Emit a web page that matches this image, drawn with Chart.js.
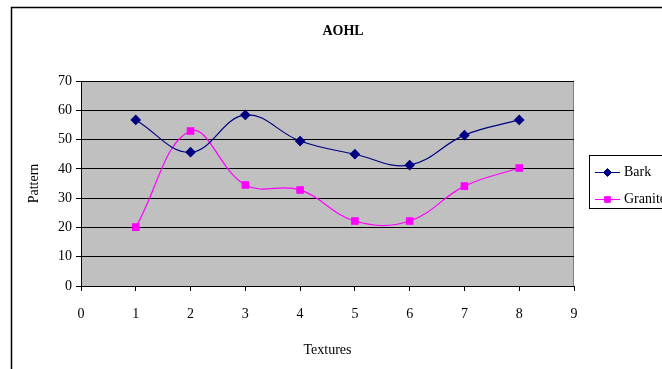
<!DOCTYPE html>
<html>
<head>
<meta charset="utf-8">
<script src="https://cdn.jsdelivr.net/npm/chart.js@4/dist/chart.umd.min.js"></script>
<style>
  html, body { margin: 0; padding: 0; background: #fff; }
  #wrap { width: 662px; height: 369px; position: relative; }
</style>
</head>
<body>
<div id="wrap"><canvas id="chart" width="662" height="369"></canvas></div>
<script>
const textures = [1, 2, 3, 4, 5, 6, 7, 8];
const bark = [56.7, 45.7, 58.4, 49.5, 45.0, 41.3, 51.5, 56.7];
const granite = [20.1, 52.9, 34.5, 32.8, 22.2, 22.2, 34.1, 40.3];
const yTicks = [0, 10, 20, 30, 40, 50, 60, 70];
const xTicks = [0, 1, 2, 3, 4, 5, 6, 7, 8, 9];

const serif = "'Liberation Serif', 'Times New Roman', serif";

// frame, gray plot background, title, legend box
const decor = {
  id: "decor",
  beforeDraw(chart) {
    const ctx = chart.ctx;
    const a = chart.chartArea;
    ctx.save();
    ctx.fillStyle = "#fff";
    ctx.fillRect(0, 0, chart.width, chart.height);
    ctx.strokeStyle = "#000";
    ctx.lineWidth = 1.5;
    ctx.beginPath();
    ctx.moveTo(11.5, chart.height);
    ctx.lineTo(11.5, 7.5);
    ctx.lineTo(chart.width, 7.5);
    ctx.stroke();
    ctx.fillStyle = "#c0c0c0";
    ctx.fillRect(a.left, a.top, a.right - a.left, a.bottom - a.top);
    ctx.strokeStyle = "#808080";
    ctx.lineWidth = 1;
    ctx.beginPath();
    ctx.moveTo(a.left, a.top + 0.5);
    ctx.lineTo(a.right - 0.5, a.top + 0.5);
    ctx.lineTo(a.right - 0.5, a.bottom);
    ctx.stroke();
    ctx.fillStyle = "#000";
    ctx.font = "bold 14px " + serif;
    ctx.textAlign = "center";
    ctx.textBaseline = "middle";
    ctx.fillText("AOHL", 343, 31);
    ctx.restore();
  },
  afterDraw(chart) {
    const ctx = chart.ctx;
    ctx.save();
    ctx.strokeStyle = "#000";
    ctx.lineWidth = 1;
    ctx.strokeRect(589.5, 155.5, 80, 53);
    const items = [
      { label: "Bark", color: "#000080", style: "rectRot", y: 172 },
      { label: "Granite", color: "#ff00ff", style: "rect", y: 199 },
    ];
    items.forEach((it) => {
      ctx.strokeStyle = it.color;
      ctx.beginPath();
      ctx.moveTo(595, it.y + 0.5);
      ctx.lineTo(620, it.y + 0.5);
      ctx.stroke();
      ctx.fillStyle = it.color;
      Chart.helpers.drawPoint(ctx, { pointStyle: it.style, radius: 4, borderWidth: 1 }, 607.5, it.y + 0.5);
      ctx.fillStyle = "#000";
      ctx.font = "14px " + serif;
      ctx.textAlign = "left";
      ctx.textBaseline = "middle";
      ctx.fillText(it.label, 624, it.y);
    });
    ctx.restore();
  },
};

new Chart(document.getElementById("chart"), {
  type: "line",
  data: {
    datasets: [
      {
        label: "Bark",
        data: textures.map((t, i) => ({ x: t, y: bark[i] })),
        borderColor: "#000080",
        backgroundColor: "#000080",
        borderWidth: 1.2,
        pointStyle: "rectRot",
        pointRadius: 4.5,
        tension: 0.4,
      },
      {
        label: "Granite",
        data: textures.map((t, i) => ({ x: t, y: granite[i] })),
        borderColor: "#ff00ff",
        backgroundColor: "#ff00ff",
        borderWidth: 1.2,
        pointStyle: "rect",
        pointRadius: 4.5,
        tension: 0.4,
      },
    ],
  },
  options: {
    responsive: false,
    animation: false,
    layout: { padding: { left: 26, right: 88, top: 81, bottom: 0 } },
    plugins: {
      legend: { display: false },
      title: { display: false },
      tooltip: { enabled: false },
    },
    scales: {
      x: {
        type: "linear",
        min: 0,
        max: 9,
        afterBuildTicks: (s) => { s.ticks = xTicks.map((v) => ({ value: v })); },
        afterFit: (s) => { s.height = 369 - 286; },
        ticks: { color: "#000", font: { family: serif, size: 14 }, padding: 15, maxRotation: 0 },
        grid: { display: true, drawOnChartArea: false, color: "#000", tickLength: 5, tickColor: "#000" },
        border: { color: "#000", width: 1 },
        title: { display: true, text: "Textures", color: "#000", font: { family: serif, size: 14 }, padding: { top: 6, bottom: 10 } },
      },
      y: {
        min: 0,
        max: 70,
        afterBuildTicks: (s) => { s.ticks = yTicks.map((v) => ({ value: v })); },
        afterFit: (s) => { s.width = 55; },
        ticks: { color: "#000", font: { family: serif, size: 14 }, padding: 4 },
        grid: { color: "#000", tickLength: 5, tickColor: "#000" },
        border: { color: "#000", width: 1 },
        title: { display: true, text: "Pattern", color: "#000", font: { family: serif, size: 14 }, padding: 0 },
      },
    },
  },
  plugins: [decor],
});
</script>
</body>
</html>
